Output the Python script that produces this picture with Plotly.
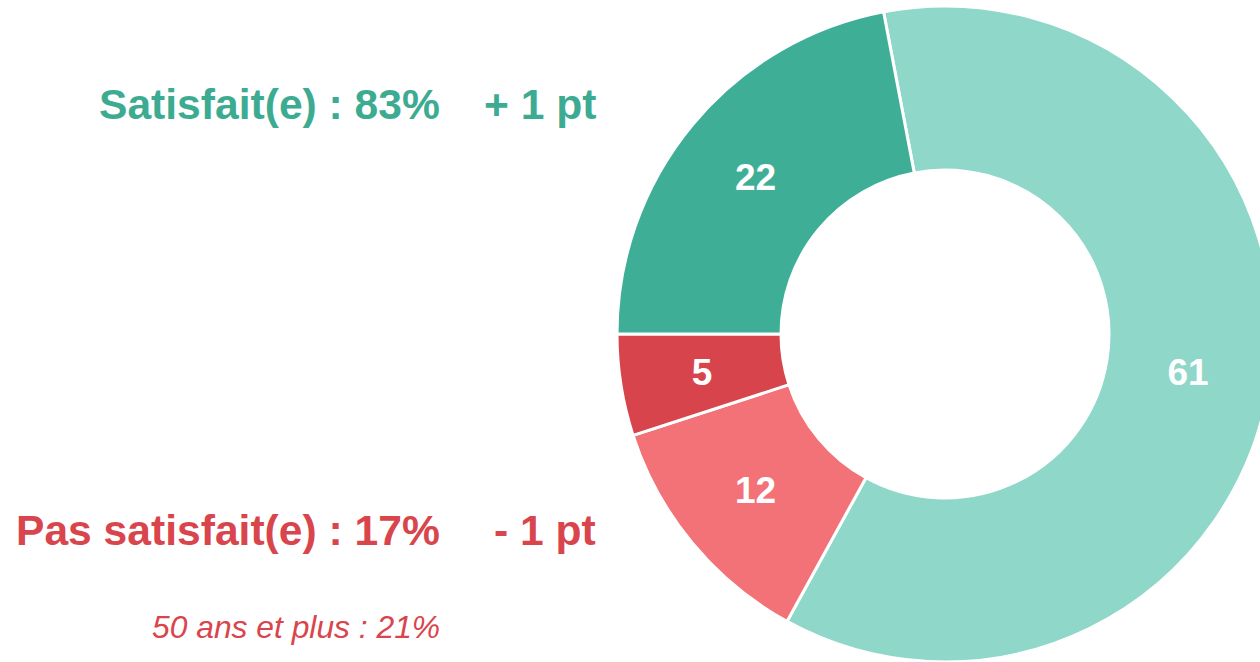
import plotly.graph_objects as go

# Data
categories = ["Très satisfait(e)", "Peu satisfait(e)", "Pas du tout satisfait(e)", "Assez satisfait(e)"]
values = [61, 12, 5, 22]
colors = ["#8fd7c9", "#f27277", "#d7444b", "#3fae96"]

summary_texts = ["Satisfait(e) : 83%", "Pas satisfait(e) : 17%"]
change_texts = ["+ 1 pt", "- 1 pt"]
summary_colors = ["#3dab92", "#d9454c"]
note_text = "50 ans et plus : 21%"

W, H = 1280, 662
FONT = "Liberation Sans, Arial, sans-serif"

# ring geometry (pixels)
CX, CY, R_OUT, HOLE = 945, 334, 328, 0.5
R_MID = R_OUT * (1 + HOLE) / 2
R_LAB = 280                       # outer radius of transparent label ring
HOLE_LAB = 2 * R_MID / R_LAB - 1  # thin ring centred on the main ring's middle


def dom(r):
    return dict(x=[(CX - r) / W, (CX + r) / W],
                y=[(H - CY - r) / H, (H - CY + r) / H])


common = dict(labels=categories, values=values, sort=False, direction="clockwise",
              rotation=-10.8, showlegend=False)

fig = go.Figure()
fig.add_trace(go.Pie(
    **common,
    hole=HOLE,
    marker=dict(colors=colors, line=dict(color="white", width=3)),
    textinfo="none",
    domain=dom(R_OUT),
    hoverinfo="label+value",
))
fig.add_trace(go.Pie(
    **common,
    hole=HOLE_LAB,
    marker=dict(colors=["rgba(0,0,0,0)"] * len(values), line=dict(width=0)),
    textinfo="value",
    textposition="inside",
    insidetextorientation="horizontal",
    textfont=dict(family=FONT, size=37, color="white", weight="bold"),
    domain=dom(R_LAB),
    hoverinfo="skip",
))


def px(x):
    return x / W


def py(y):
    return 1 - y / H


ann = [
    (summary_texts[0], 442, 104, summary_colors[0]),
    (change_texts[0], 598, 104, summary_colors[0]),
    (summary_texts[1], 442, 530, summary_colors[1]),
    (change_texts[1], 598, 530, summary_colors[1]),
]
annotations = []
for t, x, y, c in ann:
    annotations.append(dict(
        text="<b>" + t + "</b>", x=px(x), y=py(y), xref="paper", yref="paper",
        xanchor="right", yanchor="middle", showarrow=False,
        font=dict(family=FONT, size=42.6, color=c),
    ))
annotations.append(dict(
    text="<i>" + note_text + "</i>", x=px(442), y=py(627), xref="paper", yref="paper",
    xanchor="right", yanchor="middle", showarrow=False,
    font=dict(family=FONT, size=31.8, color=summary_colors[1]),
))

fig.update_layout(
    width=W, height=H,
    margin=dict(l=0, r=0, t=0, b=0),
    paper_bgcolor="white", plot_bgcolor="white",
    annotations=annotations,
)

fig.write_html(
    "out.html",
    config={"displayModeBar": False},
    post_script="document.body.style.margin='0';document.body.style.overflow='hidden';document.documentElement.style.overflow='hidden';",
)
